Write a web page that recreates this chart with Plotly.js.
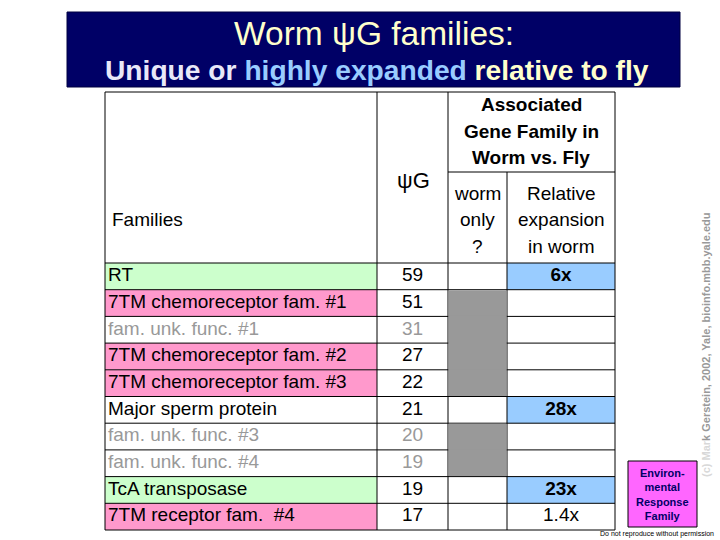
<!DOCTYPE html>
<html>
<head>
<meta charset="utf-8">
<script src="https://cdn.plot.ly/plotly-3.0.1.min.js"></script>
<style>html,body{margin:0;padding:0;background:#fff}#chart{width:720px;height:540px}</style>
</head>
<body>
<div id="chart"></div>
<script>
// ---------- data ----------
const families = ['RT', '7TM chemoreceptor fam. #1', 'fam. unk. func. #1', '7TM chemoreceptor fam. #2',
  '7TM chemoreceptor fam. #3', 'Major sperm protein', 'fam. unk. func. #3', 'fam. unk. func. #4',
  'TcA transposase', '7TM receptor fam.  #4'];
const psiG = [59, 51, 31, 27, 22, 21, 20, 19, 19, 17];
const familyClass = ['transposon', 'chemoreceptor', 'unknown', 'chemoreceptor', 'chemoreceptor',
  'other', 'unknown', 'unknown', 'transposon', 'chemoreceptor'];
const wormOnly = [false, true, true, true, true, false, true, true, false, false];
const relExpansion = ['6x', '', '', '', '', '28x', '', '', '23x', '1.4x'];
const highlyExpanded = [true, false, false, false, false, true, false, false, true, false];

// ---------- styling / geometry ----------
const FONT = 'Arial, "Liberation Sans", sans-serif';
const classFill = {transposon: '#ccffcc', chemoreceptor: '#ff99cc', unknown: '#ffffff', other: '#ffffff'};
const textColor = c => c === 'unknown' ? '#999999' : '#000000';
const COLX = [105, 377, 448, 507, 615];
const TOP = 92, HDR_MID = 172, Y0 = 263, RH = 26.7;
const n = families.length;
const rowTop = i => Y0 + i * RH;
const rowMid = i => Y0 + (i + 0.5) * RH;
const BOTTOM = rowTop(n);

const shapes = [];
// title banner
shapes.push({type: 'rect', xref: 'x', yref: 'y', x0: 67, x1: 680, y0: 12, y1: 87,
  fillcolor: '#000066', line: {color: '#000040', width: 1}, layer: 'below'});
// family cell fills
families.forEach((f, i) => {
  const fc = classFill[familyClass[i]];
  if (fc !== '#ffffff') shapes.push({type: 'rect', xref: 'x', yref: 'y', x0: COLX[0], x1: COLX[1],
    y0: rowTop(i), y1: rowTop(i + 1), fillcolor: fc, line: {width: 0}, layer: 'below'});
  if (highlyExpanded[i]) shapes.push({type: 'rect', xref: 'x', yref: 'y', x0: COLX[3], x1: COLX[4],
    y0: rowTop(i), y1: rowTop(i + 1), fillcolor: '#99ccff', line: {width: 0}, layer: 'below'});
});
// grid lines
const L = (x0, y0, x1, y1) => shapes.push({type: 'line', xref: 'x', yref: 'y', x0, y0, x1, y1,
  line: {color: '#000', width: 1}, layer: 'below'});
L(COLX[0], TOP, COLX[4], TOP);
L(COLX[0], TOP, COLX[0], BOTTOM);
L(COLX[4], TOP, COLX[4], BOTTOM);
L(COLX[1], TOP, COLX[1], BOTTOM);
L(COLX[2], TOP, COLX[2], BOTTOM);
L(COLX[3], HDR_MID, COLX[3], BOTTOM);
L(COLX[2], HDR_MID, COLX[4], HDR_MID);
for (let i = 0; i <= n; i++) L(COLX[0], rowTop(i), COLX[4], rowTop(i));
// worm-only grey cells (on top of grid)
wormOnly.forEach((w, i) => {
  if (!w) return;
  const y0 = rowTop(i) + (i > 0 && wormOnly[i - 1] ? -0.6 : 0.5);
  const y1 = rowTop(i + 1) + (i < n - 1 && wormOnly[i + 1] ? 0.6 : -0.5);
  shapes.push({type: 'rect', xref: 'x', yref: 'y', x0: COLX[2] + 0.5, x1: COLX[3] - 0.5, y0, y1,
    fillcolor: '#999999', line: {width: 0}, layer: 'below'});
});
// environmental response box
shapes.push({type: 'rect', xref: 'x', yref: 'y', x0: 628, x1: 697, y0: 461, y1: 527,
  fillcolor: '#ff66ff', line: {color: '#000', width: 1}, layer: 'below'});

const mids = families.map((f, i) => rowMid(i));
const traces = [
  {type: 'scatter', mode: 'text', x: families.map(() => COLX[0] + 3), y: mids, text: families,
    textposition: 'middle right', hoverinfo: 'skip', showlegend: false,
    textfont: {family: FONT, size: 19, color: familyClass.map(textColor)}},
  {type: 'scatter', mode: 'text', x: psiG.map(() => (COLX[1] + COLX[2]) / 2), y: mids, text: psiG.map(String),
    textposition: 'middle center', hoverinfo: 'skip', showlegend: false,
    textfont: {family: FONT, size: 19, color: familyClass.map(textColor)}},
  {type: 'scatter', mode: 'text', x: relExpansion.map(() => (COLX[3] + COLX[4]) / 2), y: mids,
    text: relExpansion.map((v, i) => highlyExpanded[i] ? '<b>' + v + '</b>' : v),
    textposition: 'middle center', hoverinfo: 'skip', showlegend: false,
    textfont: {family: FONT, size: 19, color: '#000'}}
];

const ann = (x, y, text, opts) => Object.assign({xref: 'x', yref: 'y', x, y, text, showarrow: false,
  xanchor: 'center', yanchor: 'middle', font: {family: FONT, size: 19, color: '#000'}}, opts || {});
const annotations = [
  ann(374, 33, 'Worm ψG families:', {font: {family: FONT, size: 33.5, color: '#ffffcc'}}),
  ann(377, 70, "<b><span style='color:#e8e8f8'>Unique or </span><span style='color:#99ccff'>highly expanded</span><span style='color:#ffffcc'> relative to fly</span></b>",
    {font: {family: FONT, size: 28.2, color: '#ffffcc'}}),
  ann(COLX[0] + 5, 219, 'Families', {xanchor: 'left'}),
  ann(413, 180, 'ψG', {font: {family: FONT, size: 22, color: '#000'}}),
  ann(531, 104, '<b>Associated</b>'),
  ann(531, 131, '<b>Gene Family in</b>'),
  ann(531, 157, '<b>Worm vs. Fly</b>'),
  ann(477, 193, 'worm'),
  ann(477, 219, 'only'),
  ann(477, 246, '?'),
  ann(561, 193, 'Relative'),
  ann(561, 219, 'expansion'),
  ann(561, 246, 'in worm'),
  ann(662, 494, '<b>Environ-<br>mental<br>Response<br>Family</b>', {font: {family: FONT, size: 11, color: '#000066'}}),
  ann(706, 345, "<b><span style='color:#d8d8d8'>(c) Mar</span>k Gerstein, 2002, Yale, bioinfo.mbb.yale.edu</b>",
    {textangle: -90, font: {family: FONT, size: 11, color: '#999999'}}),
  ann(716, 534, 'Do not reproduce without permission', {xanchor: 'right', font: {family: FONT, size: 7, color: '#000'}})
];

const layout = {
  width: 720, height: 540, margin: {l: 0, r: 0, t: 0, b: 0},
  paper_bgcolor: '#fff', plot_bgcolor: '#fff', showlegend: false,
  xaxis: {range: [0, 720], visible: false, fixedrange: true},
  yaxis: {range: [540, 0], visible: false, fixedrange: true},
  shapes, annotations
};
Plotly.newPlot('chart', traces, layout, {displayModeBar: false, staticPlot: true});
</script>
</body>
</html>
